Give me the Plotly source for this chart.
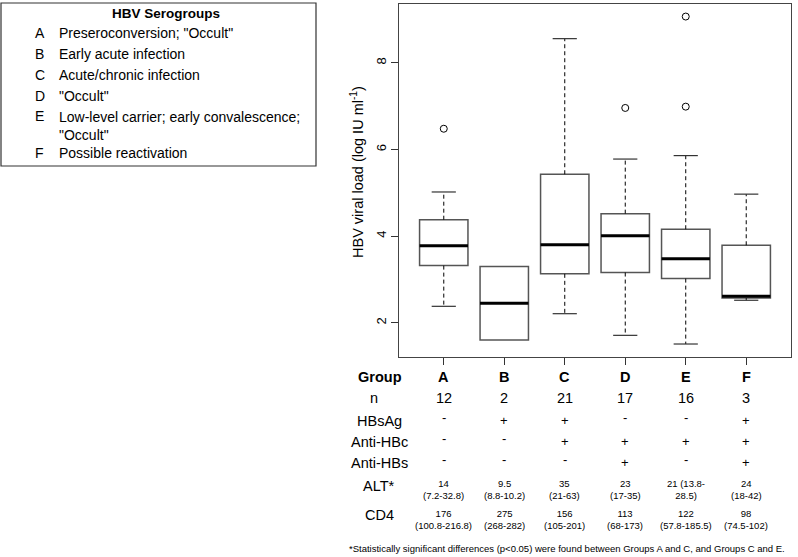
import plotly.graph_objects as go

# Box summary statistics (log IU/ml)
groups = ['A', 'B', 'C', 'D', 'E', 'F']
n_vals = [12, 2, 21, 17, 16, 3]
lower_whisker = [2.38, 1.60, 2.21, 1.71, 1.51, 2.52]
q1 = [3.32, 1.60, 3.13, 3.16, 3.02, 2.57]
median = [3.78, 2.45, 3.80, 4.01, 3.48, 2.61]
q3 = [4.38, 3.30, 5.43, 4.52, 4.16, 3.79]
upper_whisker = [5.02, 3.30, 8.56, 5.78, 5.86, 4.97]
outlier_group = ['A', 'D', 'E', 'E']
outlier_vals = [6.48, 6.96, 9.07, 6.99]

# Table below the plot
hbsag = ['-', '+', '+', '-', '-', '+']
anti_hbc = ['-', '-', '+', '+', '+', '+']
anti_hbs = ['-', '-', '-', '+', '-', '+']
alt = ['14<br>(7.2-32.8)', '9.5<br>(8.8-10.2)', '35<br>(21-63)', '23<br>(17-35)',
       '21 (13.8-<br>28.5)', '24<br>(18-42)']
cd4 = ['176<br>(100.8-216.8)', '275<br>(268-282)', '156<br>(105-201)', '113<br>(68-173)',
       '122<br>(57.8-185.5)', '98<br>(74.5-102)']

serogroups = ['A', 'B', 'C', 'D', 'E', 'F']
serogroup_desc = ['Preseroconversion; "Occult"', 'Early acute infection',
                  'Acute/chronic infection', '"Occult"',
                  'Low-level carrier; early convalescence;<br>"Occult"',
                  'Possible reactivation']

FONT = 'Arial, Liberation Sans, sans-serif'
BOX_W = 0.8
CAP_W = 0.4

# plot area in pixels
PX_L, PX_R, PX_T, PX_B = 399, 791, 4, 357
W, H = 798, 557


def xp(p):
    return (p - PX_L) / (PX_R - PX_L)


def yp(p):
    return (PX_B - p) / (PX_B - PX_T)


pos = list(range(1, len(groups) + 1))
gpos = dict(zip(groups, pos))

fig = go.Figure()

# boxes (whiskers drawn separately, dashed like R)
fig.add_trace(go.Box(
    x=pos, q1=q1, median=median, q3=q3,
    lowerfence=q1, upperfence=q3,
    width=BOX_W, whiskerwidth=0,
    fillcolor='white', line=dict(color='#555555', width=1.5),
    boxpoints=False, showlegend=False, hoverinfo='skip'
))

# dashed whiskers, caps and thick medians
wx, wy = [], []
cx, cy = [], []
mx, my = [], []
for p, lo, a, m, b, hi in zip(pos, lower_whisker, q1, median, q3, upper_whisker):
    if hi > b:
        wx += [p, p, None]
        wy += [b, hi, None]
        cx += [p - CAP_W / 2, p + CAP_W / 2, None]
        cy += [hi, hi, None]
    if lo < a:
        wx += [p, p, None]
        wy += [a, lo, None]
        cx += [p - CAP_W / 2, p + CAP_W / 2, None]
        cy += [lo, lo, None]
    mx += [p - BOX_W / 2, p + BOX_W / 2, None]
    my += [m, m, None]

fig.add_trace(go.Scatter(x=wx, y=wy, mode='lines', line=dict(color='black', width=1, dash='4px,3px'),
                         showlegend=False, hoverinfo='skip'))
fig.add_trace(go.Scatter(x=cx, y=cy, mode='lines', line=dict(color='#333333', width=1.2),
                         showlegend=False, hoverinfo='skip'))
fig.add_trace(go.Scatter(x=mx, y=my, mode='lines', line=dict(color='black', width=3),
                         showlegend=False, hoverinfo='skip'))
fig.add_trace(go.Scatter(x=[gpos[g] for g in outlier_group], y=outlier_vals, mode='markers',
                         marker=dict(symbol='circle-open', size=7, color='black', line=dict(width=1)),
                         showlegend=False))

fig.update_layout(
    width=W, height=H,
    margin=dict(l=PX_L, r=W - PX_R, t=PX_T, b=H - PX_B),
    plot_bgcolor='white', paper_bgcolor='white',
    font=dict(family=FONT, color='black'),
)
fig.update_xaxes(range=[0.26, 6.74], tickvals=pos, showticklabels=False, ticks='outside',
                 ticklen=7, tickcolor='#333333', showgrid=False, zeroline=False,
                 showline=True, mirror=True, linecolor='#444444', linewidth=1)
fig.update_yaxes(range=[1.21, 9.36], tickvals=[2, 4, 6, 8], ticks='outside', ticklen=7,
                 tickcolor='#333333', tickangle=-90, tickfont=dict(size=13, family=FONT),
                 showgrid=False, zeroline=False, showline=True, mirror=True,
                 linecolor='#444444', linewidth=1)

ann = []
# y-axis title
ann.append(dict(text='HBV viral load (log IU ml<sup>-1</sup>)', xref='paper', yref='paper',
                x=xp(357), y=yp(172), textangle=-90, showarrow=False,
                font=dict(size=14.5), xanchor='center', yanchor='middle'))

# table row labels
row_labels = [('<b>Group</b>', 380, 377), ('n', 374, 398), ('HBsAg', 379, 421),
              ('Anti-HBc', 379, 442), ('Anti-HBs', 379, 463),
              ('ALT*', 379, 486), ('CD4', 379, 515)]
for t, x, y in row_labels:
    ann.append(dict(text=t, xref='paper', yref='paper', x=xp(x), y=yp(y), showarrow=False,
                    font=dict(size=14.5), xanchor='center', yanchor='middle'))

rows = [([f'<b>{g}</b>' for g in groups], 377, 14.5), ([str(v) for v in n_vals], 398, 14.5),
        (hbsag, 420, 13), (anti_hbc, 441, 13), (anti_hbs, 462, 13),
        (alt, 489, 9.5), (cd4, 519, 9.5)]
for vals, y, s in rows:
    for p, t in zip(pos, vals):
        ann.append(dict(text=t, xref='x', yref='paper', x=p, y=yp(y), showarrow=False,
                        font=dict(size=s), xanchor='center', yanchor='middle',
                        yshift=3 if t == '-' else 0))

ann.append(dict(text='*Statistically significant differences (p<0.05) were found between Groups A and C, and Groups C and E.',
                xref='paper', yref='paper', x=xp(567), y=yp(548), showarrow=False,
                font=dict(size=9.5), xanchor='center', yanchor='middle'))

# serogroup key box
ann.append(dict(text='<b>HBV Serogroups</b>', xref='paper', yref='paper', x=xp(166), y=yp(13),
                showarrow=False, font=dict(size=13.5), xanchor='center', yanchor='middle'))
key_y = [33, 54, 75, 96, 116, 153]
for letter, desc, y in zip(serogroups, serogroup_desc, key_y):
    ann.append(dict(text=letter, xref='paper', yref='paper', x=xp(33), y=yp(y), showarrow=False,
                    font=dict(size=14), xanchor='left', yanchor='middle'))
    ann.append(dict(text=desc, xref='paper', yref='paper', x=xp(57), y=yp(y), showarrow=False,
                    font=dict(size=14), xanchor='left', yanchor='top' if '<br>' in desc else 'middle',
                    align='left', yshift=9 if '<br>' in desc else 0))
fig.update_layout(annotations=ann)

fig.add_shape(type='rect', xref='paper', yref='paper', x0=xp(1), x1=xp(316), y0=yp(3), y1=yp(166),
              line=dict(color='#333333', width=1.2), fillcolor='rgba(0,0,0,0)')

# drop the browser's default body margin so the figure sits at the page corner
fig.write_html('out.html', config={'displayModeBar': False},
               post_script="document.body.style.margin='0';")
